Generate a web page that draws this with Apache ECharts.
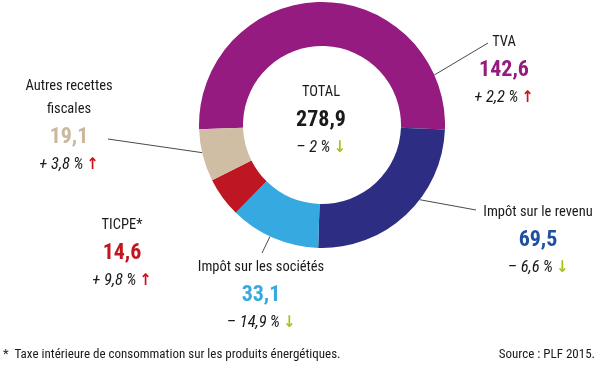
<!DOCTYPE html>
<html><head><meta charset="utf-8">
<script src="https://cdn.jsdelivr.net/npm/echarts@6/dist/echarts.min.js"></script>
<style>html,body{margin:0;padding:0;background:#fff}#c{width:600px;height:374px}</style>
</head><body><div id="c"></div>
<script>
// ---- data ----
const categories = ['TVA', 'Impôt sur le revenu', 'Impôt sur les sociétés', 'TICPE*', 'Autres recettes\nfiscales'];
const values = [142.6, 69.5, 33.1, 14.6, 19.1];
const changes = [2.2, -6.6, -14.9, 9.8, 3.8];
const totalLabel = 'TOTAL';
const totalValue = 278.9;
const totalChange = -2;
const footnote = '*  Taxe intérieure de consommation sur les produits énergétiques.';
const source = 'Source : PLF 2015.';

// ---- styles / layout ----
const FONT = '"Roboto Condensed", "DejaVu Sans Condensed", sans-serif';
const sliceColors = ['#951b81', '#2d2e83', '#36a9e1', '#be1622', '#cfbea4'];
const valueColors = ['#951b81', '#1f4f9e', '#36a9e1', '#c0161f', '#c9b89d'];
const TXT = '#1a1a1a';
const UP = '#d0101b', DOWN = '#a3c41a';
const CX = 322, CY = 125, R0 = 79, R1 = 123;
// label block position (center x, top y) and leader line (angle on ring, end point)
const labelPos = [
  {x: 504, y: 30, ang: 24, end: [488, 43]},
  {x: 538, y: 200, ang: -37.4, end: [476, 210]},
  {x: 261, y: 255, ang: -115, end: [262, 253]},
  {x: 122, y: 213, ang: null},
  {x: 69, y: 76, ang: -167, end: [108, 139]}
];

function fmt(v) { return v.toFixed(1).replace('.', ','); }
function fmtPct(c) {
  const s = Math.abs(c).toString().replace('.', ',');
  return (c >= 0 ? '+ ' : '– ') + s + '\u2009%';
}
function arrow(c) { return c >= 0 ? '{up|↑}' : '{dn|↓}'; }

const rich = {
  t: {fontFamily: FONT, fontSize: 14.5, color: TXT, lineHeight: 24, align: 'center'},
  ta: {fontFamily: FONT, fontSize: 14.5, color: TXT, lineHeight: 21, align: 'center'},
  p: {fontFamily: FONT, fontSize: 16.5, fontStyle: 'italic', color: TXT, lineHeight: 24},
  up: {fontFamily: FONT, fontSize: 16, fontWeight: 'bold', color: UP, lineHeight: 24},
  dn: {fontFamily: FONT, fontSize: 16, fontWeight: 'bold', color: DOWN, lineHeight: 24},
  tv: {fontFamily: FONT, fontSize: 22, fontWeight: 'bold', color: TXT, lineHeight: 32}
};
valueColors.forEach((c, i) => {
  rich['v' + i] = {fontFamily: FONT, fontSize: 22, fontWeight: 'bold', color: c, lineHeight: 32, align: 'center'};
});
// zrender graphic text uses "fill" instead of "color"
const richG = {};
Object.keys(rich).forEach(k => {
  const s = Object.assign({}, rich[k]);
  s.fill = s.color; delete s.color;
  richG[k] = s;
});

const data = categories.map((name, i) => ({
  name: name,
  value: values[i],
  itemStyle: {color: sliceColors[i]},
  labelLine: {show: labelPos[i].ang !== null}
}));

const chart = echarts.init(document.getElementById('c'), null, {renderer: 'canvas'});
chart.setOption({
  animation: false,
  series: [{
    type: 'pie',
    center: [CX, CY],
    radius: [R0, R1],
    startAngle: 182,
    clockwise: true,
    avoidLabelOverlap: false,
    silent: true,
    data: data,
    label: {
      show: true,
      position: 'outside',
      formatter: function (p) {
        const i = p.dataIndex;
        const lines = categories[i].split('\n');
        let title;
        if (lines.length > 1) {
          title = lines.map((l, k) => '{' + (k < lines.length - 1 ? 'ta' : 't') + '|' + l + '}').join('\n');
        } else {
          title = '{t|' + lines[0] + '}';
        }
        return title + '\n{v' + i + '|' + fmt(values[i]) + '}\n{p|' + fmtPct(changes[i]) + '} ' + arrow(changes[i]);
      },
      rich: rich,
      align: 'center'
    },
    labelLine: {show: true, lineStyle: {color: '#4a4a4a', width: 1}},
    labelLayout: function (params) {
      const lp = labelPos[params.dataIndex];
      const out = {x: lp.x, y: lp.y, align: 'center', verticalAlign: 'top'};
      if (lp.ang !== null) {
        const a = lp.ang * Math.PI / 180;
        const s = [CX + R1 * Math.cos(a), CY - R1 * Math.sin(a)];
        out.labelLinePoints = [s, lp.end, lp.end];
      }
      return out;
    }
  }],
  graphic: [
    {
      type: 'text', x: 321, y: 120, silent: true,
      style: {
        text: '{t|' + totalLabel + '}\n{tv|' + fmt(totalValue) + '}\n{p|' + fmtPct(totalChange) + '} ' + arrow(totalChange),
        rich: richG,
        align: 'center', verticalAlign: 'middle'
      }
    },
    {
      type: 'text', x: 3, y: 355, silent: true,
      style: {text: footnote, fontFamily: FONT, fontSize: 13, fill: TXT, align: 'left', verticalAlign: 'middle'}
    },
    {
      type: 'text', x: 595, y: 355, silent: true,
      style: {text: source, fontFamily: FONT, fontSize: 13, fill: TXT, align: 'right', verticalAlign: 'middle'}
    }
  ]
});
</script>
</body></html>
